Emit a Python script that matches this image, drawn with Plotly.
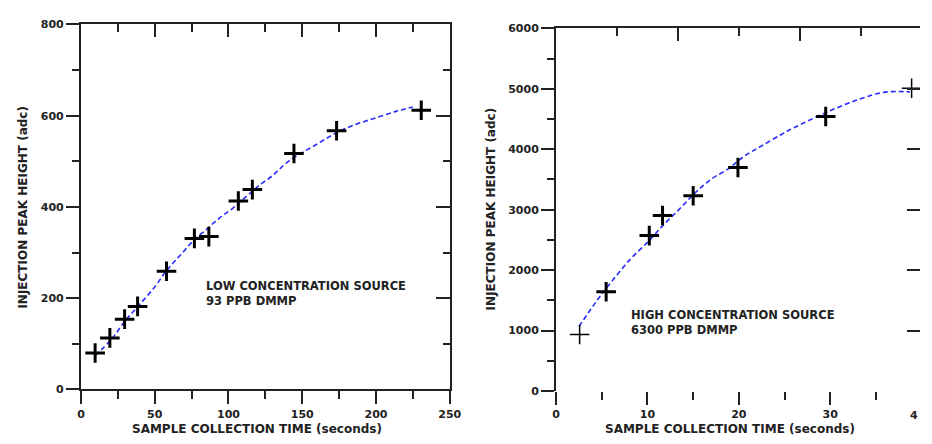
import plotly.graph_objects as go

# ---- Low concentration source (93 PPB DMMP) ----
low_time = [9.6, 19.6, 29.6, 38.4, 58.0, 76.9, 86.7, 106.7, 116.2, 144.4, 173.3, 230.7]
low_peak = [80, 113, 154, 182, 259, 331, 335, 413, 438, 517, 567, 612]

low_fit_time = [9.6, 20.7, 29.6, 38.4, 49.6, 58.4, 67.3, 76.2, 85.1, 94.0, 102.9,
                111.8, 120.7, 129.6, 140.7, 160.7, 174.0, 187.3, 200.7, 214.0, 225.0]
low_fit_peak = [74, 110, 149, 181, 223, 262, 294, 326, 351, 376, 397,
                422, 447, 468, 500, 539, 564, 582, 596, 610, 619]

# ---- High concentration source (6300 PPB DMMP) ----
high_time = [2.58, 5.48, 10.2, 11.65, 15.0, 19.9, 29.5, 38.9]
high_peak = [934, 1643, 2571, 2904, 3231, 3698, 4541, 5008]
high_stroke = [1.5, 3, 3, 3, 3, 3, 3, 1.5]

high_fit_time = [2.51, 4.48, 5.56, 8.06, 10.2, 11.65, 13.44, 15.23, 17.03, 18.8,
                 20.6, 22.4, 24.55, 26.0, 29.6, 33.15, 36.0, 38.7]
high_fit_peak = [1068, 1498, 1712, 2169, 2491, 2732, 3001, 3280, 3510, 3672,
                 3886, 4047, 4235, 4353, 4611, 4826, 4944, 4949]

FONT = "DejaVu Sans"
INK = "#222222"
FIT_COLOR = "#2a2aff"

fig = go.Figure()

fig.add_trace(go.Scatter(x=low_fit_time, y=low_fit_peak, mode="lines",
                         line=dict(color=FIT_COLOR, width=1.6, dash="5px,3px", shape="spline"),
                         xaxis="x", yaxis="y", showlegend=False))
fig.add_trace(go.Scatter(x=low_time, y=low_peak, mode="markers",
                         marker=dict(symbol="cross-thin", size=14, color="black",
                                     line=dict(color="black", width=3)),
                         xaxis="x3", yaxis="y3", showlegend=False))

fig.add_trace(go.Scatter(x=high_fit_time, y=high_fit_peak, mode="lines",
                         line=dict(color=FIT_COLOR, width=1.6, dash="5px,3px", shape="spline"),
                         xaxis="x2", yaxis="y2", showlegend=False))
fig.add_trace(go.Scatter(x=high_time, y=high_peak, mode="markers",
                         marker=dict(symbol="cross-thin", size=14, color="black",
                                     line=dict(color="black", width=high_stroke)),
                         xaxis="x4", yaxis="y4", showlegend=False))

tickfont = dict(family=FONT, size=11, color=INK, weight="bold")
common = dict(showgrid=False, zeroline=False, linecolor=INK, linewidth=2,
              tickcolor=INK, tickwidth=2, tickfont=tickfont)

W, H = 932, 444
L_dom_x = [78.3 / W, 453.5 / W]
L_dom_y = [1 - 395 / H, 1 - 19 / H]
R_dom_x = [561.7 / W, 1.0]
R_dom_y = [1 - 396.6 / H, 1 - 23.0 / H]
R_xmax = 40 * (W - 561.7) / (933.7 - 561.7)

fig.update_layout(
    width=W, height=H, margin=dict(l=0, r=0, t=0, b=0),
    paper_bgcolor="white", plot_bgcolor="white",
    font=dict(family=FONT, color=INK),
    # left panel
    xaxis=dict(domain=L_dom_x, range=[0, 250], anchor="y", showline=True,
               ticks="outside", ticklen=13, dtick=50, tick0=0,
               minor=dict(ticks="outside", ticklen=8, dtick=25, tickwidth=2, tickcolor=INK),
               **common),
    yaxis=dict(domain=L_dom_y, range=[0, 800], anchor="x", showline=True,
               ticks="outside", ticklen=13, dtick=200, tick0=0,
               minor=dict(ticks="outside", ticklen=7, dtick=100, tickwidth=2, tickcolor=INK),
               **common),
    xaxis3=dict(overlaying="x", side="top", anchor="y3", range=[0, 250], showline=True,
                ticks="inside", ticklen=13, dtick=50, tick0=0, showticklabels=False,
                minor=dict(ticks="inside", ticklen=8, dtick=25, tickwidth=2, tickcolor=INK),
                **common),
    yaxis3=dict(overlaying="y", side="right", anchor="x3", range=[0, 800], showline=True,
                ticks="inside", ticklen=14, dtick=200, tick0=0, showticklabels=False,
                minor=dict(ticks="inside", ticklen=7, dtick=100, tickwidth=2, tickcolor=INK),
                **common),
    # right panel
    xaxis2=dict(domain=R_dom_x, range=[0, R_xmax], anchor="y2", showline=False,
                ticks="outside", ticklen=13, dtick=10, tick0=0,
                minor=dict(ticks="outside", ticklen=8, dtick=5, tickwidth=2, tickcolor=INK),
                **common),
    yaxis2=dict(domain=R_dom_y, range=[0, 6000], anchor="x2", showline=True,
                ticks="outside", ticklen=13, dtick=1000, tick0=0,
                minor=dict(ticks="outside", ticklen=7, dtick=500, tickwidth=2, tickcolor=INK),
                **common),
    xaxis4=dict(overlaying="x2", side="top", anchor="y4", range=[0, R_xmax], showline=True,
                ticks="inside", ticklen=13, dtick=40 / 3, tick0=0, showticklabels=False,
                minor=dict(ticks="inside", ticklen=8, dtick=20 / 3, tickwidth=2, tickcolor=INK),
                **common),
    yaxis4=dict(overlaying="y2", side="right", anchor="x4", range=[0, 6000], showline=False,
                ticks="inside", ticklen=13, dtick=1000, tick0=0, showticklabels=False,
                **common),
)

title_font = dict(family=FONT, size=12, color=INK, weight="bold")
note_font = dict(family=FONT, size=11.5, color=INK, weight="bold")

annotations = [
    # axis titles
    dict(text="INJECTION PEAK HEIGHT (adc)", x=19 / W, y=1 - 207 / H, textangle=-90,
         font=title_font),
    dict(text="SAMPLE COLLECTION TIME (seconds)", x=257 / W, y=1 - 436 / H, font=title_font),
    dict(text="INJECTION PEAK HEIGHT (adc)", x=495 / W, y=1 - 209 / H, textangle=-90,
         font=title_font),
    dict(text="SAMPLE COLLECTION TIME (seconds)", x=739 / W, y=1 - 436 / H, font=title_font),
    # the 40 label of the right panel is cut by the page edge; only its first digit shows
    dict(text="4", x=1.0, y=1 - 422 / H, xanchor="right", font=tickfont),
    # panel notes
    dict(text="LOW CONCENTRATION SOURCE<br>93 PPB DMMP", x=203 / W, y=1 - 279 / H,
         xanchor="left", yanchor="top", align="left", font=note_font),
    dict(text="HIGH CONCENTRATION SOURCE<br>6300 PPB DMMP", x=636 / W, y=1 - 309 / H,
         xanchor="left", yanchor="top", align="left", font=note_font),
]
for a in annotations:
    a.setdefault("xanchor", "center")
    a.setdefault("yanchor", "middle")
    fig.add_annotation(xref="paper", yref="paper", showarrow=False, **a)

# keep the 932x444 figure flush with the page corner
fig.write_html("out.html",
               post_script="document.body.style.margin='0';document.body.style.overflow='hidden';")
